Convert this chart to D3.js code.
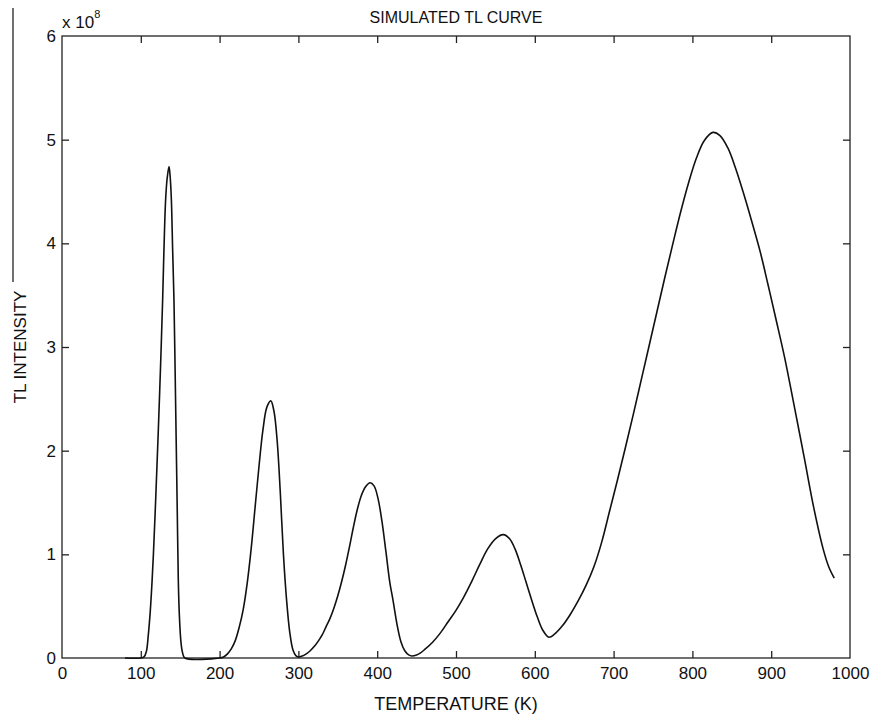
<!DOCTYPE html>
<html>
<head>
<meta charset="utf-8">
<script src="https://cdn.jsdelivr.net/npm/d3@7"></script>
<style>
  body { margin: 0; background: #fff; }
  svg { display: block; font-family: "Liberation Sans", Arial, sans-serif; }
  .axis path { display: none; }
  .axis line { stroke: #222; stroke-width: 1.3; }
  .axis text { font-size: 17px; fill: #111; }
</style>
</head>
<body>
<svg id="chart"></svg>
<script>
// ==============================
// DATA (intensity in units of 1e8)
// ==============================
const temperatureK = [
  80, 100, 104, 107, 109.5, 112, 114, 116, 119, 122, 125, 127.7, 129.4, 131.5, 133.5, 135.8,
  137.2, 138.8, 140.4, 142.1, 143.5, 144.9, 146.3, 147.6, 149, 151, 153, 156,
  200, 205, 210, 215, 220, 225, 230, 235, 240, 245, 250, 255, 260, 265,
  269, 273, 277, 281, 285, 289, 293, 297, 300,
  305, 310, 315, 320, 325, 330, 335, 340, 345, 350, 355, 360, 365, 370, 375, 380, 385, 391,
  396, 401, 406, 411, 416, 420, 425, 430, 435, 440, 444,
  450, 455, 460, 470, 480, 490, 500, 510, 520, 530, 540, 550, 560,
  568, 575, 582, 589, 596, 603, 610, 618,
  625, 635, 645, 655, 665, 675, 685, 695, 705, 715, 725, 735, 745, 755, 765, 775, 785, 795, 805, 815, 826,
  835, 845, 855, 865, 875, 886, 896, 906, 917, 930, 942, 954, 966, 973, 980
];
const intensity = [
  0, 0, 0.01, 0.06, 0.22, 0.45, 0.7, 1.0, 1.55, 2.15, 2.8, 3.45, 3.94, 4.42, 4.63, 4.74,
  4.65, 4.42, 3.94, 3.45, 2.8, 2.1, 1.4, 0.75, 0.4, 0.15, 0.05, 0,
  0, 0.01, 0.04, 0.09, 0.17, 0.3, 0.47, 0.72, 1.05, 1.45, 1.85, 2.2, 2.42, 2.48,
  2.38, 2.1, 1.6, 1.0, 0.56, 0.25, 0.08, 0.02, 0.01,
  0.02, 0.04, 0.07, 0.11, 0.16, 0.22, 0.3, 0.38, 0.48, 0.6, 0.74, 0.9, 1.08, 1.27, 1.44, 1.57, 1.65, 1.69,
  1.66, 1.54, 1.32, 1.03, 0.73, 0.56, 0.33, 0.16, 0.07, 0.03, 0.02,
  0.03, 0.05, 0.08, 0.15, 0.24, 0.35, 0.46, 0.59, 0.74, 0.9, 1.05, 1.15, 1.19,
  1.15, 1.05, 0.9, 0.73, 0.56, 0.4, 0.27, 0.2,
  0.23, 0.31, 0.42, 0.55, 0.7, 0.88, 1.12, 1.42, 1.72, 2.03, 2.35, 2.68, 3.01, 3.34, 3.67, 3.99, 4.3, 4.58, 4.82, 4.99, 5.07,
  5.04, 4.92, 4.72, 4.48, 4.22, 3.92, 3.6, 3.27, 2.9, 2.4, 1.93, 1.45, 1.05, 0.88, 0.77
];
const xTicks = [0, 100, 200, 300, 400, 500, 600, 700, 800, 900, 1000];
const yTicks = [0, 1, 2, 3, 4, 5, 6];

const width = 872;
const height = 718;
const margin = { top: 36, right: 22, bottom: 60, left: 62 };

const svg = d3.select("#chart")
  .attr("width", width)
  .attr("height", height);

const x = d3.scaleLinear().domain([0, 1000]).range([margin.left, width - margin.right]);
const y = d3.scaleLinear().domain([0, 6]).range([height - margin.bottom, margin.top]);

const tick = 7;
const fmt = d3.format("d");

// bottom + top axes (ticks pointing inward)
svg.append("g")
  .attr("class", "axis")
  .attr("transform", `translate(0,${y(0)})`)
  .call(d3.axisBottom(x).tickValues(xTicks).tickFormat(fmt).tickSizeInner(-tick).tickSizeOuter(0).tickPadding(9));

svg.append("g")
  .attr("class", "axis")
  .attr("transform", `translate(0,${y(6)})`)
  .call(d3.axisTop(x).tickValues(xTicks).tickSizeInner(-tick).tickSizeOuter(0).tickFormat(""));

// left + right axes
svg.append("g")
  .attr("class", "axis")
  .attr("transform", `translate(${x(0)},0)`)
  .call(d3.axisLeft(y).tickValues(yTicks).tickFormat(fmt).tickSizeInner(-tick).tickSizeOuter(0).tickPadding(6));

svg.append("g")
  .attr("class", "axis")
  .attr("transform", `translate(${x(1000)},0)`)
  .call(d3.axisRight(y).tickValues(yTicks).tickSizeInner(-tick).tickSizeOuter(0).tickFormat(""));

// drop the end ticks that sit on the box edges
svg.selectAll(".axis .tick line").filter(function () {
  const t = d3.select(this.parentNode).datum();
  return t === 0 || t === 1000 || t === 6;
}).remove();

// box
svg.append("rect")
  .attr("x", x(0))
  .attr("y", y(6))
  .attr("width", x(1000) - x(0))
  .attr("height", y(0) - y(6))
  .attr("fill", "none")
  .attr("stroke", "#222")
  .attr("stroke-width", 1.3);

// curve
const points = temperatureK.map((t, i) => [t, intensity[i]]);
const line = d3.line()
  .x(d => x(d[0]))
  .y(d => y(Math.max(0, d[1])))
  .curve(d3.curveCatmullRom.alpha(0.5));

svg.append("path")
  .datum(points)
  .attr("d", line)
  .attr("fill", "none")
  .attr("stroke", "#111")
  .attr("stroke-width", 1.6)
  .attr("stroke-linejoin", "round");

// exponent label
const expo = svg.append("text")
  .attr("x", x(0))
  .attr("y", 28)
  .attr("font-size", 17)
  .attr("fill", "#111")
  .text("x 10");
expo.append("tspan")
  .attr("dy", -10)
  .attr("font-size", 11)
  .text("8");

// title
svg.append("text")
  .attr("x", (x(0) + x(1000)) / 2)
  .attr("y", 23)
  .attr("text-anchor", "middle")
  .attr("font-size", 16)
  .attr("fill", "#111")
  .text("SIMULATED TL CURVE");

// axis titles
svg.append("text")
  .attr("x", (x(0) + x(1000)) / 2)
  .attr("y", 710)
  .attr("text-anchor", "middle")
  .attr("font-size", 18)
  .attr("fill", "#111")
  .text("TEMPERATURE (K)");

svg.append("text")
  .attr("transform", `translate(26,${(y(0) + y(6)) / 2}) rotate(-90)`)
  .attr("text-anchor", "middle")
  .attr("font-size", 17)
  .attr("fill", "#111")
  .text("TL INTENSITY");

// page rule at the far left of the scan
svg.append("line")
  .attr("x1", 13).attr("x2", 13)
  .attr("y1", 8).attr("y2", 282)
  .attr("stroke", "#222")
  .attr("stroke-width", 1.3);
</script>
</body>
</html>
